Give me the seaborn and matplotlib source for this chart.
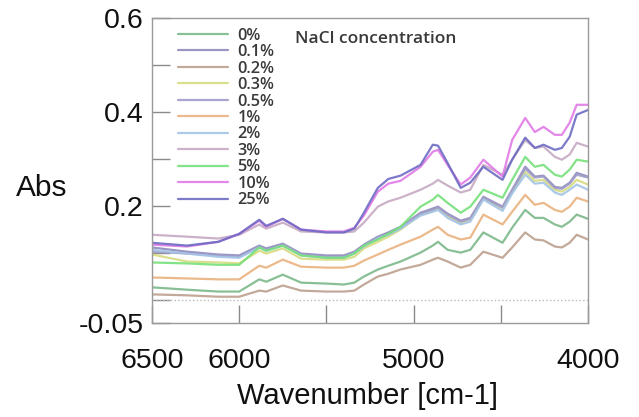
import numpy as np
import pandas as pd
import seaborn as sns
import matplotlib.pyplot as plt

# -------------------------------------------------------------------------------------------------------------------
wavenumber = [6500, 6300, 6120, 6000, 5885, 5845, 5750, 5645, 5500, 5400, 5340, 5285, 5205, 5145, 5075, 4960,
              4890, 4860, 4805, 4730, 4675, 4600, 4490, 4435, 4360, 4305, 4255, 4190, 4150, 4105, 4065, 4000]

abs_0 = [0.026, 0.021, 0.017, 0.017, 0.043, 0.038, 0.053, 0.036, 0.034, 0.032, 0.036, 0.049, 0.064, 0.072, 0.081, 0.100,
         0.115, 0.123, 0.106, 0.100, 0.106, 0.143, 0.121, 0.153, 0.191, 0.174, 0.174, 0.160, 0.155, 0.166, 0.181, 0.172]
abs_01 = [0.111, 0.102, 0.096, 0.094, 0.115, 0.109, 0.119, 0.098, 0.094, 0.094, 0.102, 0.117, 0.134, 0.143, 0.155, 0.185,
          0.194, 0.198, 0.183, 0.168, 0.174, 0.219, 0.198, 0.234, 0.283, 0.262, 0.264, 0.240, 0.238, 0.249, 0.270, 0.262]
abs_02 = [0.011, 0.009, 0.006, 0.006, 0.019, 0.017, 0.030, 0.019, 0.017, 0.017, 0.019, 0.032, 0.049, 0.055, 0.064, 0.074,
          0.085, 0.089, 0.081, 0.068, 0.074, 0.102, 0.089, 0.111, 0.143, 0.128, 0.126, 0.113, 0.111, 0.121, 0.138, 0.128]
abs_03 = [0.096, 0.081, 0.079, 0.077, 0.104, 0.098, 0.109, 0.087, 0.085, 0.085, 0.091, 0.109, 0.123, 0.134, 0.149, 0.181,
          0.189, 0.194, 0.177, 0.162, 0.170, 0.215, 0.194, 0.230, 0.272, 0.253, 0.255, 0.234, 0.230, 0.240, 0.255, 0.245]
abs_05 = [0.102, 0.098, 0.094, 0.091, 0.113, 0.106, 0.117, 0.096, 0.091, 0.091, 0.100, 0.115, 0.132, 0.140, 0.153, 0.183,
          0.191, 0.196, 0.181, 0.166, 0.172, 0.217, 0.196, 0.232, 0.279, 0.260, 0.262, 0.238, 0.236, 0.247, 0.266, 0.260]
abs_1 = [0.047, 0.045, 0.043, 0.043, 0.072, 0.068, 0.085, 0.070, 0.068, 0.068, 0.072, 0.083, 0.096, 0.106, 0.117, 0.134,
         0.149, 0.155, 0.138, 0.128, 0.132, 0.181, 0.160, 0.187, 0.223, 0.202, 0.206, 0.191, 0.187, 0.198, 0.217, 0.209]
abs_2 = [0.106, 0.098, 0.091, 0.089, 0.111, 0.104, 0.115, 0.094, 0.089, 0.089, 0.098, 0.113, 0.130, 0.138, 0.151, 0.179,
         0.187, 0.191, 0.174, 0.160, 0.166, 0.213, 0.189, 0.226, 0.266, 0.247, 0.249, 0.228, 0.223, 0.234, 0.245, 0.234]
abs_3 = [0.138, 0.134, 0.130, 0.138, 0.160, 0.151, 0.164, 0.145, 0.143, 0.143, 0.145, 0.164, 0.198, 0.209, 0.217, 0.234,
         0.247, 0.255, 0.243, 0.228, 0.234, 0.287, 0.266, 0.298, 0.340, 0.323, 0.326, 0.304, 0.298, 0.309, 0.334, 0.326]
abs_5 = [0.079, 0.077, 0.074, 0.074, 0.111, 0.104, 0.115, 0.094, 0.089, 0.089, 0.098, 0.115, 0.128, 0.140, 0.155, 0.198,
         0.213, 0.223, 0.206, 0.185, 0.198, 0.234, 0.217, 0.255, 0.304, 0.283, 0.287, 0.266, 0.262, 0.277, 0.298, 0.294]
abs_10 = [0.117, 0.113, 0.123, 0.140, 0.168, 0.155, 0.172, 0.149, 0.145, 0.145, 0.153, 0.179, 0.230, 0.247, 0.253, 0.283,
          0.315, 0.319, 0.287, 0.245, 0.260, 0.298, 0.262, 0.340, 0.387, 0.357, 0.368, 0.351, 0.351, 0.377, 0.415, 0.415]
abs_25 = [0.121, 0.115, 0.123, 0.140, 0.170, 0.157, 0.172, 0.149, 0.143, 0.143, 0.151, 0.185, 0.238, 0.257, 0.264, 0.287,
          0.330, 0.328, 0.291, 0.238, 0.249, 0.283, 0.255, 0.298, 0.345, 0.323, 0.330, 0.319, 0.323, 0.347, 0.394, 0.404]

labels = ['0%', '0.1%', '0.2%', '0.3%', '0.5%', '1%', '2%', '3%', '5%', '10%', '25%']
series = [abs_0, abs_01, abs_02, abs_03, abs_05, abs_1, abs_2, abs_3, abs_5, abs_10, abs_25]
colors = ['#7cb88a', '#8f8bbd', '#bca08f', '#d6dc80', '#a09dca', '#e9b27e',
          '#a3c4e6', '#c6aac4', '#76e07a', '#e07ae6', '#6e6cc4']
# -------------------------------------------------------------------------------------------------------------------
rows = []
for lab, vals in zip(labels, series):
    for w, v in zip(wavenumber, vals):
        rows.append((w, v, lab))
df = pd.DataFrame(rows, columns=['Wavenumber', 'Abs', 'NaCl'])

sns.set_style('white')
plt.rcParams['font.family'] = ['Liberation Sans', 'DejaVu Sans']

fig = plt.figure(figsize=(6.39, 4.17), dpi=100)
ax = fig.add_axes([152 / 639, 1 - 323 / 417, 436 / 639, 305 / 417])
sns.lineplot(data=df, x='Wavenumber', y='Abs', hue='NaCl', hue_order=labels,
             palette=dict(zip(labels, colors)), estimator=None, lw=1.6, alpha=0.9, ax=ax)
ax.axhline(0, color='#b8b8b8', ls=':', lw=1)

ax.set_xlim(6500, 4000)
ax.set_ylim(-0.05, 0.6)
ax.set_xticks([6500, 6000, 5500, 5000, 4500, 4000])
ax.set_xticklabels(['6500', '6000', '', '5000', '', '4000'])
ax.set_yticks([-0.05, 0.0, 0.1, 0.2, 0.3, 0.4, 0.5, 0.6])
ax.set_yticklabels(['-0.05', '', '', '0.2', '', '0.4', '', '0.6'])
ax.tick_params(axis='both', bottom=True, left=True, direction='in', length=13, width=1,
               color='#8a8a8a', labelsize=20.5, labelcolor='#111111')
ax.tick_params(axis='x', pad=18)
ax.tick_params(axis='y', pad=6)
for s in ax.spines.values():
    s.set_color('#9a9a9a')
    s.set_linewidth(1)

ax.set_xlabel('Wavenumber [cm-1]', fontsize=21, color='#111111', va='center')
ax.xaxis.set_label_coords(0.494, -73 / 305)
ax.set_ylabel('Abs', fontsize=21.5, rotation=0, color='#111111', ha='center', va='center')
ax.yaxis.set_label_coords(-110 / 436, 1 - 170 / 305)

leg = ax.legend(loc='upper left', bbox_to_anchor=(0.045, 0.99), frameon=False, fontsize=11.7,
                handlelength=3.1, handletextpad=0.55, labelspacing=0.03, borderaxespad=0.0)
for t in leg.get_texts():
    t.set_color('#3a3a3a')
    t.set_family(['Open Sans', 'DejaVu Sans'])
    t.set_weight('semibold')
ax.text((295 - 152) / 436, 1 - 21 / 305, 'NaCl concentration', transform=ax.transAxes, fontsize=12.5,
        family=['Open Sans', 'DejaVu Sans'], weight='semibold', color='#3a3a3a', va='center')

fig.savefig('out.png', dpi=100)
